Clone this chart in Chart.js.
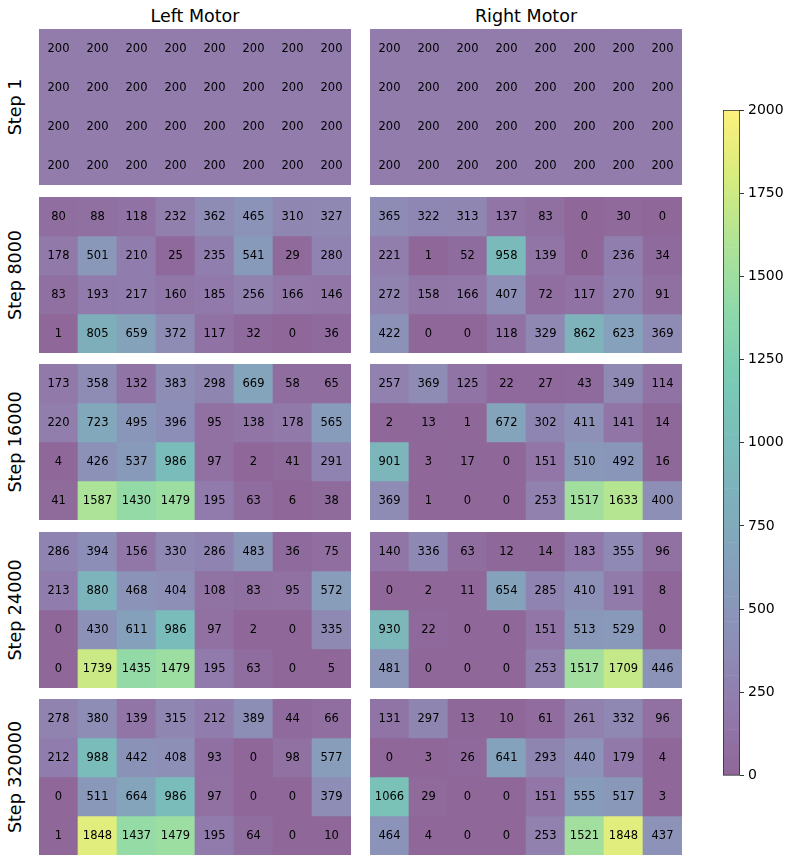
<!DOCTYPE html>
<html><head><meta charset="utf-8">
<script src="https://cdn.jsdelivr.net/npm/chart.js@4.4.1/dist/chart.umd.min.js"></script>
<style>
html,body{margin:0;padding:0;background:#fff;}
body{width:789px;height:862px;position:relative;overflow:hidden;font-family:"DejaVu Sans",sans-serif;}
.panel{position:absolute;}
.panel canvas{display:block;}
.title{position:absolute;font-size:17.5px;line-height:17.5px;color:#000;white-space:nowrap;transform:translateX(-50%);}
.rowlab{position:absolute;font-size:17.5px;line-height:17.5px;color:#000;white-space:nowrap;transform:translate(-50%,-50%) rotate(-90deg);}
</style></head><body>
<script>
// ---------------- data ----------------
const columns = ['1','2','3','4','5','6','7','8'];
const motorTitles = ['Left Motor','Right Motor'];
const stepLabels = ['Step 1','Step 8000','Step 16000','Step 24000','Step 320000'];
const colorbarTicks = [0,250,500,750,1000,1250,1500,1750,2000];
const colorMin = 0, colorMax = 2000;

const leftStep1 = [
  [200,200,200,200,200,200,200,200],
  [200,200,200,200,200,200,200,200],
  [200,200,200,200,200,200,200,200],
  [200,200,200,200,200,200,200,200]];
const rightStep1 = [
  [200,200,200,200,200,200,200,200],
  [200,200,200,200,200,200,200,200],
  [200,200,200,200,200,200,200,200],
  [200,200,200,200,200,200,200,200]];
const leftStep8000 = [
  [80,88,118,232,362,465,310,327],
  [178,501,210,25,235,541,29,280],
  [83,193,217,160,185,256,166,146],
  [1,805,659,372,117,32,0,36]];
const rightStep8000 = [
  [365,322,313,137,83,0,30,0],
  [221,1,52,958,139,0,236,34],
  [272,158,166,407,72,117,270,91],
  [422,0,0,118,329,862,623,369]];
const leftStep16000 = [
  [173,358,132,383,298,669,58,65],
  [220,723,495,396,95,138,178,565],
  [4,426,537,986,97,2,41,291],
  [41,1587,1430,1479,195,63,6,38]];
const rightStep16000 = [
  [257,369,125,22,27,43,349,114],
  [2,13,1,672,302,411,141,14],
  [901,3,17,0,151,510,492,16],
  [369,1,0,0,253,1517,1633,400]];
const leftStep24000 = [
  [286,394,156,330,286,483,36,75],
  [213,880,468,404,108,83,95,572],
  [0,430,611,986,97,2,0,335],
  [0,1739,1435,1479,195,63,0,5]];
const rightStep24000 = [
  [140,336,63,12,14,183,355,96],
  [0,2,11,654,285,410,191,8],
  [930,22,0,0,151,513,529,0],
  [481,0,0,0,253,1517,1709,446]];
const leftStep320000 = [
  [278,380,139,315,212,389,44,66],
  [212,988,442,408,93,0,98,577],
  [0,511,664,986,97,0,0,379],
  [1,1848,1437,1479,195,64,0,10]];
const rightStep320000 = [
  [131,297,13,10,61,261,332,96],
  [0,3,26,641,293,440,179,4],
  [1066,29,0,0,151,555,517,3],
  [464,4,0,0,253,1521,1848,437]];

const panelRows = [
  [leftStep1, rightStep1],
  [leftStep8000, rightStep8000],
  [leftStep16000, rightStep16000],
  [leftStep24000, rightStep24000],
  [leftStep320000, rightStep320000]];

// ---------------- colour map (viridis, alpha 0.6 on white) ----------------
const viridis = ['#440154','#482475','#414487','#355f8d','#2a788e','#21918c','#22a884','#44bf70','#7ad151','#bddf26','#fde725'];
const alpha = 0.6;
function hexRgb(h){return [parseInt(h.slice(1,3),16),parseInt(h.slice(3,5),16),parseInt(h.slice(5,7),16)];}
const viridisRgb = viridis.map(hexRgb);
function cmap(v){
  let t = (v - colorMin)/(colorMax - colorMin);
  t = Math.max(0, Math.min(1, t));
  const p = t*(viridisRgb.length-1);
  const i = Math.min(Math.floor(p), viridisRgb.length-2);
  const f = p - i;
  const a = viridisRgb[i], b = viridisRgb[i+1];
  const c = [0,1,2].map(k => a[k] + (b[k]-a[k])*f);
  const m = c.map(x => Math.round(alpha*x + (1-alpha)*255));
  return '#' + m.map(x => x.toString(16).padStart(2,'0')).join('');
}

// ---------------- layout ----------------
const panelLeft = [39, 370];
const panelTop = [29, 197, 364, 532, 699];
const panelW = 312, panelH = 156;

const cellText = {
  id: 'cellText',
  afterDatasetsDraw(chart){
    const ctx = chart.ctx;
    ctx.save();
    ctx.font = '11.5px "DejaVu Sans"';
    ctx.fillStyle = '#000';
    ctx.textAlign = 'center';
    ctx.textBaseline = 'middle';
    chart.data.datasets.forEach((ds, i) => {
      chart.getDatasetMeta(i).data.forEach((el, j) => {
        ctx.fillText(String(ds.values[j]), el.x, (el.y + el.base)/2 + 0.5);
      });
    });
    ctx.restore();
  }
};

function addDiv(cls, text, x, y){
  const d = document.createElement('div');
  d.className = cls; d.textContent = text;
  d.style.left = x + 'px'; d.style.top = y + 'px';
  document.body.appendChild(d);
  return d;
}

function makePanel(matrix, x, y){
  const div = document.createElement('div');
  div.className = 'panel';
  div.style.left = x + 'px'; div.style.top = y + 'px';
  div.style.width = panelW + 'px'; div.style.height = panelH + 'px';
  const cv = document.createElement('canvas');
  div.appendChild(cv);
  document.body.appendChild(div);
  const nRows = matrix.length;
  const datasets = matrix.map((row, r) => ({
    label: 'row ' + (r+1),
    data: row.map(() => [nRows-1-r, nRows-r]),
    values: row,
    backgroundColor: row.map(v => cmap(v)),
    borderWidth: 0,
    borderSkipped: false,
    grouped: false,
    barPercentage: 1,
    categoryPercentage: 1
  }));
  new Chart(cv, {
    type: 'bar',
    data: { labels: columns, datasets },
    options: {
      responsive: true, maintainAspectRatio: false, animation: false,
      layout: { padding: 0 },
      plugins: { legend: { display: false }, tooltip: { enabled: false }, title: { display: false } },
      scales: {
        x: { type: 'category', display: false, offset: true, grid: { display: false } },
        y: { type: 'linear', display: false, min: 0, max: nRows }
      }
    },
    plugins: [cellText]
  });
}

// titles
motorTitles.forEach((t, c) => addDiv('title', t, panelLeft[c] + panelW/2, 8));
// row labels
stepLabels.forEach((t, r) => addDiv('rowlab', t, 16, panelTop[r] + panelH/2));
// panels
panelRows.forEach((pair, r) => pair.forEach((m, c) => makePanel(m, panelLeft[c], panelTop[r])));

// ---------------- colour bar ----------------
(function(){
  const div = document.createElement('div');
  div.className = 'panel';
  div.style.left = '723px'; div.style.top = '97.8px';
  div.style.width = '66px'; div.style.height = '689.6px';
  const cv = document.createElement('canvas');
  div.appendChild(cv);
  document.body.appendChild(div);
  const nSeg = 160;
  const datasets = [];
  for (let k = 0; k < nSeg; k++){
    const lo = colorMin + (colorMax-colorMin)*k/nSeg;
    const hi = colorMin + (colorMax-colorMin)*(k+1)/nSeg;
    datasets.push({ data: [[lo, hi]], backgroundColor: cmap((lo+hi)/2), borderWidth: 0, borderSkipped: false,
      grouped: false, barPercentage: 1, categoryPercentage: 1 });
  }
  const outline = {
    id: 'outline',
    afterDraw(chart){
      const a = chart.chartArea, ctx = chart.ctx;
      ctx.save(); ctx.strokeStyle = '#333'; ctx.lineWidth = 0.8;
      ctx.strokeRect(a.left+0.4, a.top, a.right-a.left-0.8, a.bottom-a.top);
      ctx.restore();
    }
  };
  new Chart(cv, {
    type: 'bar',
    data: { labels: [''], datasets },
    options: {
      responsive: true, maintainAspectRatio: false, animation: false,
      layout: { padding: 0 },
      plugins: { legend: { display: false }, tooltip: { enabled: false } },
      scales: {
        x: { display: false, offset: true },
        y: {
          position: 'right', min: colorMin, max: colorMax,
          afterBuildTicks: s => { s.ticks = colorbarTicks.map(v => ({ value: v })); },
          afterFit: s => { s.width = 49; },
          ticks: { color: '#000', padding: 4, font: { family: 'DejaVu Sans', size: 14 }, callback: v => String(v) },
          grid: { drawOnChartArea: false, drawTicks: true, tickLength: 4, color: '#000', lineWidth: 0.8 },
          border: { display: false }
        }
      }
    },
    plugins: [outline]
  });
})();
</script>
</body></html>
